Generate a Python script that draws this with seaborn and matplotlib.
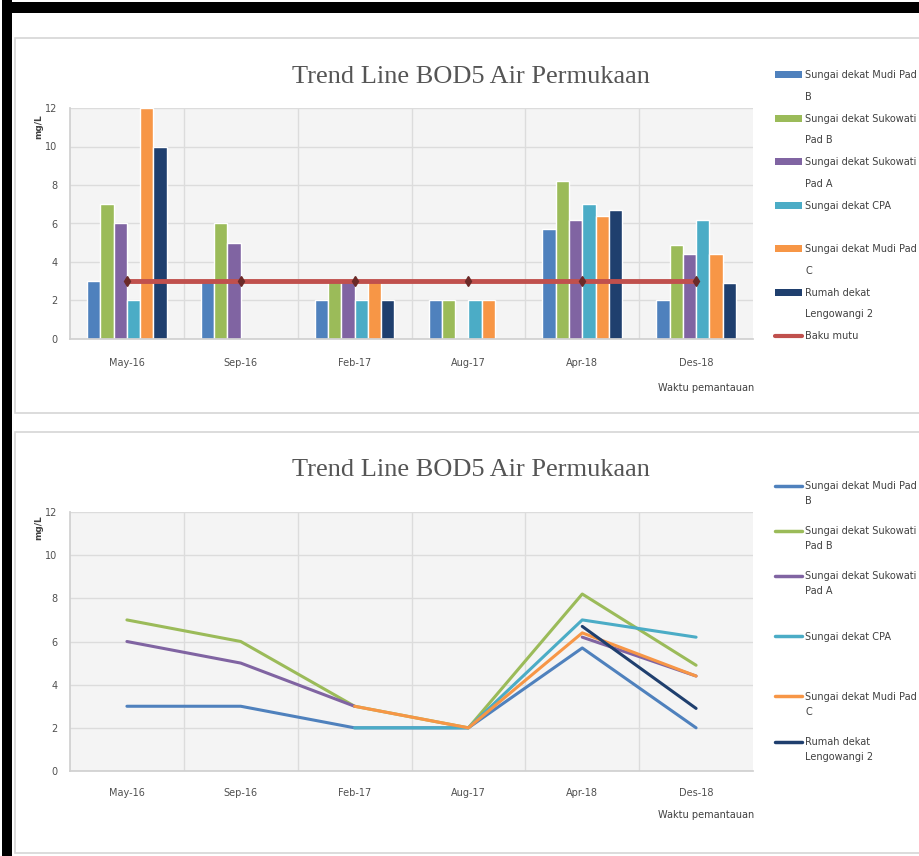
import numpy as np
import pandas as pd
import matplotlib
matplotlib.use("Agg")
import matplotlib.pyplot as plt
import seaborn as sns
from matplotlib.patches import Patch, Rectangle
from matplotlib.lines import Line2D

nan = np.nan

# Monitoring periods and locations
periods = ["May-16", "Sep-16", "Feb-17", "Aug-17", "Apr-18", "Des-18"]
stations = [
    "Sungai dekat Mudi Pad B",
    "Sungai dekat Sukowati Pad B",
    "Sungai dekat Sukowati Pad A",
    "Sungai dekat CPA",
    "Sungai dekat Mudi Pad C",
    "Rumah dekat Lengowangi 2",
]

# BOD5 (mg/L) per location
mudi_pad_b = [3, 3, 2, 2, 5.7, 2]
sukowati_pad_b = [7, 6, 3, 2, 8.2, 4.9]
sukowati_pad_a = [6, 5, 3, nan, 6.2, 4.4]
cpa = [2, nan, 2, 2, 7.0, 6.2]
mudi_pad_c = [12, nan, 3, 2, 6.4, 4.4]
lengowangi_2 = [10, nan, 2, nan, 6.7, 2.9]
baku_mutu = [3, 3, 3, 3, 3, 3]

series = [mudi_pad_b, sukowati_pad_b, sukowati_pad_a, cpa, mudi_pad_c, lengowangi_2]

# Legend text wrapped the way the spreadsheet legend shows it
legend_lines = [
    ["Sungai dekat Mudi Pad", "B"],
    ["Sungai dekat Sukowati", "Pad B"],
    ["Sungai dekat Sukowati", "Pad A"],
    ["Sungai dekat CPA", " "],
    ["Sungai dekat Mudi Pad", "C"],
    ["Rumah dekat", "Lengowangi 2"],
]

colors = ["#4F81BD", "#9BBB59", "#8064A2", "#4BACC6", "#F79646", "#1F3F6E"]
red = "#C0504D"

title = "Trend Line BOD5 Air Permukaan"
ylabel = "mg/L"
xlabel = "Waktu pemantauan"

df = pd.DataFrame({
    "Periode": np.repeat([periods], len(stations), axis=0).ravel(),
    "Lokasi": np.repeat(stations, len(periods)),
    "BOD5": np.concatenate(series),
}).dropna()

sns.set_theme(style="white")
plt.rcParams["font.family"] = ["Liberation Sans Narrow", "DejaVu Sans"]

W, H = 919, 856
fig = plt.figure(figsize=(W / 100, H / 100), dpi=100)
fig.patch.set_facecolor("white")


def fx(px):
    return px / W


def fy(py):
    return 1 - py / H


# Frame and panel outlines
fig.add_artist(Rectangle((fx(2), 0), fx(10), 1, transform=fig.transFigure,
                         facecolor="black", edgecolor="none", zorder=10))
fig.add_artist(Rectangle((fx(2), fy(13)), 1, 11 / H, transform=fig.transFigure,
                         facecolor="black", edgecolor="none", zorder=10))
for top, bot in [(38, 413), (432, 853)]:
    fig.add_artist(Rectangle((fx(15), fy(bot)), fx(W - 15 + 5), (bot - top) / H,
                             transform=fig.transFigure, facecolor="white",
                             edgecolor="#d6d6d6", lw=1.2, zorder=0))

text_col = "#404040"
tick_font = dict(family=["Liberation Sans Narrow", "DejaVu Sans"], size=7, color="#505050")


def style_axes(ax, label_pad):
    ax.set_facecolor("#f4f4f4")
    ax.set_xlim(-0.5, 5.5)
    ax.set_ylim(0, 12)
    ax.set_yticks(range(0, 13, 2))
    ax.set_xticks(range(len(periods)))
    ax.set_xticklabels(periods)
    ax.set_xticks(np.arange(0.5, 5.5, 1), minor=True)
    ax.grid(False)
    ax.grid(True, axis="y", which="major", color="#dcdcdc", lw=1.0)
    ax.grid(True, axis="x", which="minor", color="#dcdcdc", lw=1.0)
    ax.set_axisbelow(True)
    for s in ax.spines.values():
        s.set_visible(False)
    ax.spines["left"].set_visible(True)
    ax.spines["left"].set_color("#d0d0d0")
    ax.spines["bottom"].set_visible(True)
    ax.spines["bottom"].set_color("#d0d0d0")
    ax.tick_params(axis="both", which="both", length=0)
    ax.tick_params(axis="x", pad=label_pad)
    ax.tick_params(axis="y", pad=9)
    for t in ax.get_xticklabels() + ax.get_yticklabels():
        t.set_fontfamily(tick_font["family"])
        t.set_fontsize(tick_font["size"])
        t.set_color(tick_font["color"])
    ax.set_xlabel("")
    ax.set_ylabel("")


# ---- Bar chart ----
ax1 = fig.add_axes([fx(70), fy(339), fx(753 - 70), (339 - 108) / H])
sns.barplot(data=df, x="Periode", y="BOD5", hue="Lokasi", order=periods,
            hue_order=stations, palette=colors, errorbar=None, width=0.7,
            saturation=1, legend=False, ax=ax1, zorder=2)
ax1.plot(range(len(periods)), baku_mutu, color=red, lw=3.5, zorder=4,
         marker="d", markersize=5, markerfacecolor="#6b2a28", markeredgecolor="#6b2a28")
style_axes(ax1, 14)

# ---- Line chart ----
ax2 = fig.add_axes([fx(70), fy(771), fx(753 - 70), (771 - 512) / H])
for vals, c in zip(series, colors):
    ax2.plot(range(len(periods)), vals, color=c, lw=2.2, zorder=3)
style_axes(ax2, 12)

# Titles and axis labels
for ty in (77, 470):
    fig.text(fx(471), fy(ty), title, ha="center", va="center",
             family=["Liberation Serif", "DejaVu Serif"], fontsize=19, color="#555555")
for ly in (127, 528):
    fig.text(fx(39), fy(ly), ylabel, rotation=90, ha="center", va="center",
             fontsize=6.5, fontweight="bold", color=text_col)
for ly in (388, 815):
    fig.text(fx(706), fy(ly), xlabel, ha="center", va="center",
             fontsize=7, color=text_col)

# ---- Legends: one row per printed line ----
blank_patch = Patch(facecolor="none", edgecolor="none")
h1, l1 = [], []
for c, lines in zip(colors, legend_lines):
    h1.append(Patch(facecolor=c, edgecolor="none"))
    l1.append(lines[0])
    h1.append(blank_patch)
    l1.append(lines[1])
h1.append(Line2D([], [], color=red, lw=3))
l1.append("Baku mutu")

leg1 = fig.legend(h1, l1, loc="upper left", bbox_to_anchor=(fx(775), fy(70)),
                  frameon=False, fontsize=7, handlelength=2.8, handleheight=0.75,
                  handletextpad=0.3, labelspacing=1.21, borderpad=0, borderaxespad=0)
for t in leg1.get_texts():
    t.set_color(text_col)

blank_line = Line2D([], [], color="none")
rows_after = [1, 1, 2, 2, 1, 0]
h2, l2 = [], []
for c, lines, extra in zip(colors, legend_lines, rows_after):
    h2.append(Line2D([], [], color=c, lw=2.5))
    l2.append(lines[0])
    if lines[1].strip():
        h2.append(blank_line)
        l2.append(lines[1])
    else:
        extra += 1
    for _ in range(extra):
        h2.append(blank_line)
        l2.append(" ")

leg2 = fig.legend(h2, l2, loc="upper left", bbox_to_anchor=(fx(775), fy(481)),
                  frameon=False, fontsize=7, handlelength=2.8,
                  handletextpad=0.3, labelspacing=0.52, borderpad=0, borderaxespad=0)
for t in leg2.get_texts():
    t.set_color(text_col)

fig.savefig("out.png", dpi=100)
